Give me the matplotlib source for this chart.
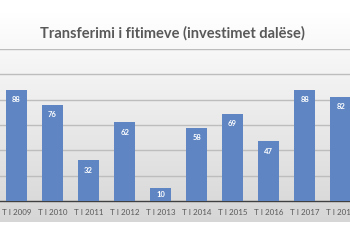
import numpy as np
import matplotlib.pyplot as plt
from matplotlib.colors import LinearSegmentedColormap

categories = ['T I 2009', 'T I 2010', 'T I 2011', 'T I 2012', 'T I 2013',
              'T I 2014', 'T I 2015', 'T I 2016', 'T I 2017', 'T I 2018']
values = [88, 76, 32, 62, 10, 58, 69, 47, 88, 82]
title = 'Transferimi i fitimeve (investimet dalëse)'

BAR = '#5f86c3'
W, H = 350, 250

fig = plt.figure(figsize=(W / 100, H / 100), dpi=100)

# chart frame with a light vertical gradient (white -> grey)
frame = fig.add_axes([0, 1 - 222 / H, 1, (222 - 13) / H])
grad = np.linspace(0, 1, 256).reshape(-1, 1)
frame.imshow(grad, aspect='auto', extent=[0, 1, 0, 1], origin='upper',
             cmap=LinearSegmentedColormap.from_list('bg', ['#ffffff', '#d6d6d6']))
frame.set_axis_off()

ax = fig.add_axes([0, 1 - 201 / H, 1, (201 - 49) / H])
ax.patch.set_alpha(0)
x = np.arange(len(categories))
bars = ax.bar(x, values, width=0.58, color=BAR, zorder=3)
ax.set_xlim(-0.46, 9.26)
ax.set_ylim(0, 120)
ax.set_yticks([20, 40, 60, 80, 100, 120])
ax.yaxis.grid(True, color='#bdbdbd', linewidth=1.0, zorder=0)
ax.tick_params(axis='y', left=False, labelleft=False)
ax.set_xticks(x)
ax.set_xticklabels(categories, fontsize=5.8, color='#595959', family='Lato')
ax.tick_params(axis='x', length=0, pad=6)
for s in ['left', 'right', 'top']:
    ax.spines[s].set_visible(False)
ax.spines['bottom'].set_color('#404040')
ax.spines['bottom'].set_linewidth(1.0)

for b, v in zip(bars, values):
    # label sits just inside the top; short bars get it centred
    if v < 15:
        pos, off = v / 2, 0
    else:
        pos, off = v, -7
    ax.annotate(str(v), (b.get_x() + b.get_width() / 2, pos), xytext=(0, off),
                textcoords='offset points', ha='center', va='center',
                fontsize=5.5, color='white', fontweight='bold', family='Lato', zorder=4)

fig.text(172 / W, 1 - 33 / H, title, ha='center', va='center', fontsize=10.5,
         fontweight='bold', color='#595959', family='Lato')

fig.savefig('out.png', dpi=100)
